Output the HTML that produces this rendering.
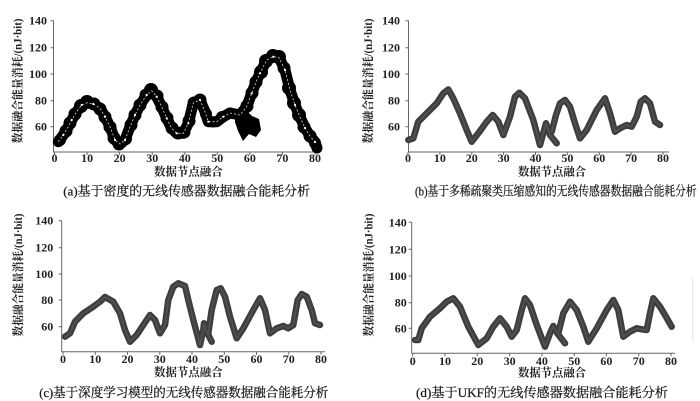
<!DOCTYPE html>
<html><head><meta charset="utf-8"><style>
html,body{margin:0;padding:0;background:#fff;}
svg{display:block;}
.num{font-family:"Liberation Serif","Noto Serif CJK SC",serif;font-weight:bold;font-size:12px;fill:#222;}
.ttl{font-family:"Liberation Serif","Noto Serif CJK SC",serif;font-weight:bold;font-size:11.5px;fill:#222;}
.cap{font-family:"Liberation Serif","Noto Serif CJK SC",serif;font-size:13px;fill:#1a1a1a;stroke:#1a1a1a;stroke-width:0.25;}
.ax{stroke:#666;stroke-width:1;fill:none;}
.ln{fill:none;stroke:#3e3e3e;stroke-width:6.5;stroke-linejoin:round;stroke-linecap:round;}
.ln2{fill:none;stroke:#5c5c5c;stroke-width:1.5;stroke-linejoin:round;stroke-linecap:round;opacity:.7;}
</style></head><body>
<svg width="700" height="401" viewBox="0 0 700 401" xmlns="http://www.w3.org/2000/svg">
<!-- ===== Panel A ===== -->
<g>
<path class="ax" d="M53.5 20.5V152H319M50.5 20.7H53.5M50.5 47.7H53.5M50.5 74H53.5M50.5 100.7H53.5M50.5 126.7H53.5M54.5 152v3M87.1 152v3M119.6 152v3M152.2 152v3M184.8 152v3M217.3 152v3M249.9 152v3M282.4 152v3M315 152v3"/>
<g class="num" text-anchor="end"><text x="47" y="24.7">140</text><text x="47" y="51.7">120</text><text x="47" y="78">100</text><text x="47" y="104.7">80</text><text x="47" y="130.7">60</text></g>
<g class="num" text-anchor="middle"><text x="54.5" y="162">0</text><text x="87.1" y="162">10</text><text x="119.6" y="162">20</text><text x="152.2" y="162">30</text><text x="184.8" y="162">40</text><text x="217.3" y="162">50</text><text x="249.9" y="162">60</text><text x="282.4" y="162">70</text><text x="315" y="162">80</text></g>
<text class="ttl" x="154" y="175.5" textLength="68.7" lengthAdjust="spacingAndGlyphs">数据节点融合</text>
<text class="ttl" transform="translate(21.5,81) rotate(-90)" text-anchor="middle" textLength="125" lengthAdjust="spacingAndGlyphs">数据融合能量消耗/(nJ·bit)</text>
<text class="cap" x="63.3" y="195.5" textLength="246.7" lengthAdjust="spacingAndGlyphs">(a)基于密度的无线传感器数据融合能耗分析</text>
<g id="pa">
<polyline fill="none" stroke="#000" stroke-width="11" stroke-linejoin="round" stroke-linecap="round" points="58.3,141.7 63.3,135 68.3,126.7 71.7,120 76.7,111.7 81.7,105 87.3,102.7 93.3,104 100,108.3 105,116.7 110,126.7 115,140 120,144 125,140 130,126.7 135,115 140,105 146.7,95 151.7,90.7 156.7,96.7 161.7,106.7 166.7,118.3 171.7,128.3 176.7,133.3 183.3,133.3 188.3,123.3 193.3,103 200,100 205,111.7 208.3,121.7 216.7,121.7 223.3,116.7 230,113 240,115 246.7,106.7 251.7,93.3 256,82 260,73.3 266.7,60 273.3,56.7 279,57.5 285,70 290,90 295,105 300,117 305,128 310,136 315,142 317,148"/>
<polygon fill="#000" points="235,112 245,109 252,116 259,119 261,130 256,137 249,134 243,141 238,131 235,122"/>
<g fill="#000">
<circle cx="60" cy="140" r="6"/><circle cx="66" cy="131" r="6.5"/><circle cx="70" cy="123" r="6.5"/><circle cx="75" cy="114" r="6.5"/><circle cx="81" cy="106" r="7"/><circle cx="87" cy="102" r="7"/><circle cx="94" cy="104" r="6.5"/><circle cx="100" cy="109" r="6.5"/><circle cx="105" cy="117" r="6.5"/><circle cx="110" cy="127" r="6.5"/><circle cx="114" cy="138" r="6.5"/><circle cx="119" cy="144" r="6.5"/><circle cx="126" cy="139" r="6"/><circle cx="131" cy="125" r="6.5"/><circle cx="135" cy="115" r="6.5"/><circle cx="140" cy="105" r="6.5"/><circle cx="146" cy="95" r="6.5"/><circle cx="151" cy="90" r="7"/><circle cx="157" cy="96" r="6.5"/><circle cx="162" cy="107" r="6.5"/><circle cx="167" cy="118" r="6.5"/><circle cx="172" cy="128" r="6.5"/><circle cx="178" cy="133" r="6.5"/><circle cx="184" cy="132" r="6.5"/><circle cx="189" cy="121" r="6.5"/><circle cx="194" cy="103" r="6.5"/><circle cx="200" cy="100" r="6.5"/><circle cx="206" cy="114" r="6"/><circle cx="213" cy="122" r="5.5"/><circle cx="222" cy="117" r="6"/><circle cx="230" cy="113" r="5.5"/><circle cx="247" cy="106" r="6.5"/><circle cx="252" cy="93" r="6.5"/><circle cx="256" cy="82" r="6.5"/><circle cx="261" cy="72" r="7"/><circle cx="266" cy="61" r="7"/><circle cx="273" cy="56" r="7"/><circle cx="279" cy="57" r="7"/><circle cx="284" cy="68" r="6.5"/><circle cx="289" cy="88" r="7"/><circle cx="294" cy="103" r="7"/><circle cx="299" cy="115" r="7"/><circle cx="304" cy="127" r="6.5"/><circle cx="310" cy="136" r="6.5"/><circle cx="315" cy="143" r="6"/>
</g>
<polyline fill="none" stroke="#fff" stroke-width="0.8" stroke-dasharray="2 2" opacity="0.85" points="58.3,141.7 63.3,135 68.3,126.7 71.7,120 76.7,111.7 81.7,105 87.3,102.7 93.3,104 100,108.3 105,116.7 110,126.7 115,140 120,144 125,140 130,126.7 135,115 140,105 146.7,95 151.7,90.7 156.7,96.7 161.7,106.7 166.7,118.3 171.7,128.3 176.7,133.3 183.3,133.3 188.3,123.3 193.3,103 200,100 205,111.7 208.3,121.7 216.7,121.7 223.3,116.7 230,113 240,115 246.7,106.7 251.7,93.3 256,82 260,73.3 266.7,60 273.3,56.7 279,57.5 285,70 290,90 295,105 300,117 305,128 310,136 315,142"/>
<g fill="#fff">
<circle cx="63.3" cy="135" r="1.1"/><circle cx="71.7" cy="120" r="1.1"/><circle cx="81.7" cy="105" r="1.1"/><circle cx="93.3" cy="104" r="1.1"/><circle cx="105" cy="116.7" r="1.1"/><circle cx="115" cy="140" r="1.1"/><circle cx="125" cy="140" r="1.1"/><circle cx="135" cy="115" r="1.1"/><circle cx="146.7" cy="95" r="1.1"/><circle cx="156.7" cy="96.7" r="1.1"/><circle cx="166.7" cy="118.3" r="1.1"/><circle cx="176.7" cy="133.3" r="1.1"/><circle cx="188.3" cy="123.3" r="1.1"/><circle cx="200" cy="100" r="1.1"/><circle cx="208.3" cy="121.7" r="1.1"/><circle cx="223.3" cy="116.7" r="1.1"/><circle cx="251.7" cy="93.3" r="1.1"/><circle cx="260" cy="73.3" r="1.1"/><circle cx="273.3" cy="56.7" r="1.1"/><circle cx="285" cy="70" r="1.1"/><circle cx="295" cy="105" r="1.1"/><circle cx="305" cy="128" r="1.1"/><circle cx="315" cy="142" r="1.1"/>
</g>
</g>
</g>
<!-- ===== Panel B ===== -->
<g>
<path class="ax" d="M408.5 20.5V152H669M405.5 20.7H408.5M405.5 47.7H408.5M405.5 74H408.5M405.5 100.7H408.5M405.5 126.7H408.5M408 152v3M439.9 152v3M471.8 152v3M503.6 152v3M535.5 152v3M567.4 152v3M599.3 152v3M631.1 152v3M663 152v3"/>
<g class="num" text-anchor="end"><text x="400" y="24.7">140</text><text x="400" y="51.7">120</text><text x="400" y="78">100</text><text x="400" y="104.7">80</text><text x="400" y="130.7">60</text></g>
<g class="num" text-anchor="middle"><text x="408" y="162">0</text><text x="439.9" y="162">10</text><text x="471.8" y="162">20</text><text x="503.6" y="162">30</text><text x="535.5" y="162">40</text><text x="567.4" y="162">50</text><text x="599.3" y="162">60</text><text x="631.1" y="162">70</text><text x="663" y="162">80</text></g>
<text class="ttl" x="518" y="175.5" textLength="68" lengthAdjust="spacingAndGlyphs">数据节点融合</text>
<text class="ttl" transform="translate(372,81) rotate(-90)" text-anchor="middle" textLength="125" lengthAdjust="spacingAndGlyphs">数据融合能量消耗/(nJ·bit)</text>
<text class="cap" x="415" y="195.5" textLength="281.7" lengthAdjust="spacingAndGlyphs">(b)基于多稀疏聚类压缩感知的无线传感器数据融合能耗分析</text>
<polyline class="ln" points="408.3,140 413.3,138.3 418.3,121.7 426.7,113.3 436.7,103.3 443.3,93.3 448.3,89.5 453.3,98.3 460,113.3 466.7,130 471.7,141.7 478.3,133.3 486.7,121.7 492.7,115 498.3,121.7 503.3,135 510,116.7 515,96.7 519.3,92.7 525,98.3 533.3,120 540,145 546,123.3 550,135 556.7,143.3"/>
<polyline class="ln" points="551.7,131.7 556,115 560,103.3 565,100 570,106.7 575,123.3 580,138.3 586.7,130 596.7,110 605,98.3 610,113.3 615,131.7 620,128.3 626.7,125 631.7,126.7 636.7,116.7 640.7,101.7 645,98.3 650,103.3 655,121.7 660,125"/>
<polyline class="ln2" points="408.3,140 413.3,138.3 418.3,121.7 426.7,113.3 436.7,103.3 443.3,93.3 448.3,89.5 453.3,98.3 460,113.3 466.7,130 471.7,141.7 478.3,133.3 486.7,121.7 492.7,115 498.3,121.7 503.3,135 510,116.7 515,96.7 519.3,92.7 525,98.3 533.3,120 540,145 546,123.3 550,135 556.7,143.3"/>
<polyline class="ln2" points="551.7,131.7 556,115 560,103.3 565,100 570,106.7 575,123.3 580,138.3 586.7,130 596.7,110 605,98.3 610,113.3 615,131.7 620,128.3 626.7,125 631.7,126.7 636.7,116.7 640.7,101.7 645,98.3 650,103.3 655,121.7 660,125"/>
</g>
<!-- ===== Panel C ===== -->
<g>
<path class="ax" d="M61.7 220.7V351.7H325M58.7 220.7H61.7M58.7 247.7H61.7M58.7 274H61.7M58.7 300H61.7M58.7 326.7H61.7M63 351.7v3M95.3 351.7v3M127.5 351.7v3M159.8 351.7v3M192 351.7v3M224.3 351.7v3M256.5 351.7v3M288.8 351.7v3M321 351.7v3"/>
<g class="num" text-anchor="end"><text x="53.3" y="224.7">140</text><text x="53.3" y="251.7">120</text><text x="53.3" y="278">100</text><text x="53.3" y="304">80</text><text x="53.3" y="330.7">60</text></g>
<g class="num" text-anchor="middle"><text x="63" y="363">0</text><text x="95.3" y="363">10</text><text x="127.5" y="363">20</text><text x="159.8" y="363">30</text><text x="192" y="363">40</text><text x="224.3" y="363">50</text><text x="256.5" y="363">60</text><text x="288.8" y="363">70</text><text x="321" y="363">80</text></g>
<text class="ttl" x="154" y="376" textLength="68.7" lengthAdjust="spacingAndGlyphs">数据节点融合</text>
<text class="ttl" transform="translate(22,275) rotate(-90)" text-anchor="middle" textLength="123" lengthAdjust="spacingAndGlyphs">数据融合能量消耗/(nJ·bit)</text>
<text class="cap" x="39.3" y="397" textLength="289" lengthAdjust="spacingAndGlyphs">(c)基于深度学习模型的无线传感器数据融合能耗分析</text>
<polyline class="ln" points="65,336.7 70,333.3 75,321.7 83.3,313.3 93.3,306.7 100,301.7 105,297 113.3,301.7 120,313.3 125,330 130,341.7 136.7,335 143.3,325 150,315 155,320 160,333.3 165,325 168.3,300 173.3,286.7 178.3,283.3 185,286 188.3,300 193.3,320 200,345 203.3,330 204,323.3 206.7,331.7 211.7,341.7"/>
<polyline class="ln" points="208.3,333.3 211.7,310 216.7,290 220.7,288.3 225,296.7 230,316.7 236.7,338.3 243.3,328.3 253.3,310 260,298.3 265,310 270,333.3 276.7,328.3 283.3,326 288.3,328.3 293.3,325 297.7,300 301.7,294 306.7,296.7 311.7,310 315,323.3 320,325"/>
<polyline class="ln2" points="65,336.7 70,333.3 75,321.7 83.3,313.3 93.3,306.7 100,301.7 105,297 113.3,301.7 120,313.3 125,330 130,341.7 136.7,335 143.3,325 150,315 155,320 160,333.3 165,325 168.3,300 173.3,286.7 178.3,283.3 185,286 188.3,300 193.3,320 200,345 203.3,330 204,323.3 206.7,331.7 211.7,341.7"/>
<polyline class="ln2" points="208.3,333.3 211.7,310 216.7,290 220.7,288.3 225,296.7 230,316.7 236.7,338.3 243.3,328.3 253.3,310 260,298.3 265,310 270,333.3 276.7,328.3 283.3,326 288.3,328.3 293.3,325 297.7,300 301.7,294 306.7,296.7 311.7,310 315,323.3 320,325"/>
</g>
<!-- ===== Panel D ===== -->
<g>
<path class="ax" d="M411.7 222.3V353.3H675M408.7 222.3H411.7M408.7 249.3H411.7M408.7 276H411.7M408.7 302.7H411.7M408.7 328.3H411.7M412.7 353.3v3M445 353.3v3M477.3 353.3v3M509.6 353.3v3M541.9 353.3v3M574.2 353.3v3M606.4 353.3v3M638.7 353.3v3M671 353.3v3"/>
<g class="num" text-anchor="end"><text x="406.7" y="226.3">140</text><text x="406.7" y="253.3">120</text><text x="406.7" y="280">100</text><text x="406.7" y="306.7">80</text><text x="406.7" y="332.3">60</text></g>
<g class="num" text-anchor="middle"><text x="412.7" y="365">0</text><text x="445" y="365">10</text><text x="477.3" y="365">20</text><text x="509.6" y="365">30</text><text x="541.9" y="365">40</text><text x="574.2" y="365">50</text><text x="606.4" y="365">60</text><text x="638.7" y="365">70</text><text x="671" y="365">80</text></g>
<text class="ttl" x="518" y="376.5" textLength="68" lengthAdjust="spacingAndGlyphs">数据节点融合</text>
<text class="ttl" transform="translate(372.5,275) rotate(-90)" text-anchor="middle" textLength="123" lengthAdjust="spacingAndGlyphs">数据融合能量消耗/(nJ·bit)</text>
<text class="cap" x="416" y="397" textLength="252" lengthAdjust="spacingAndGlyphs">(d)基于UKF的无线传感器数据融合能耗分析</text>
<line x1="692.7" y1="277" x2="692.7" y2="342" stroke="#e6e6e6" stroke-width="1"/>
<polyline class="ln" points="415,340 418.3,340 421.7,328.3 430,316.7 440,308.3 446.7,301.7 453.3,298.3 460,306.7 468.3,326.7 478.3,345 486.7,338.3 493.3,326.7 500,318.3 506.7,326.7 511.7,336.7 516.7,330 521.7,310 525,298.3 530,305 536.7,325 545,346.7 550,333.3 553.3,326 557.3,333.3 565,343.3"/>
<polyline class="ln" points="558.3,333.3 563.3,313.3 570,301.7 576.7,310 583.3,326.7 588.3,341.7 596.7,328.3 606.7,310 613.3,300 618.3,310 623.3,336.7 630,331.7 636.7,328.3 641.7,329.3 646.7,330 650,313.3 653.3,298.3 660,306.7 665,315 671.7,326.7"/>
<polyline class="ln2" points="415,340 418.3,340 421.7,328.3 430,316.7 440,308.3 446.7,301.7 453.3,298.3 460,306.7 468.3,326.7 478.3,345 486.7,338.3 493.3,326.7 500,318.3 506.7,326.7 511.7,336.7 516.7,330 521.7,310 525,298.3 530,305 536.7,325 545,346.7 550,333.3 553.3,326 557.3,333.3 565,343.3"/>
<polyline class="ln2" points="558.3,333.3 563.3,313.3 570,301.7 576.7,310 583.3,326.7 588.3,341.7 596.7,328.3 606.7,310 613.3,300 618.3,310 623.3,336.7 630,331.7 636.7,328.3 641.7,329.3 646.7,330 650,313.3 653.3,298.3 660,306.7 665,315 671.7,326.7"/>
</g>
</svg>
</body></html>
